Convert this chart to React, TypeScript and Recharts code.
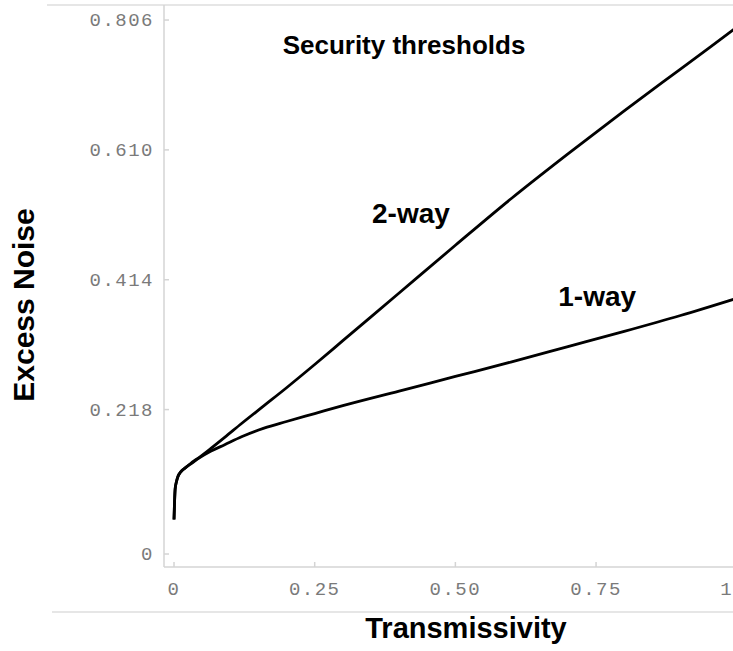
import React from "react";
import { LineChart, Line, XAxis, YAxis, ReferenceDot, Label } from "recharts";

const ETA = [0, 0.001, 0.002, 0.004, 0.007, 0.012, 0.02, 0.03, 0.045, 0.065, 0.09, 0.12, 0.16, 0.2, 0.25, 0.3, 0.4, 0.5, 0.6, 0.7, 0.8, 0.9, 1.0];
const TWO_WAY = [0.052, 0.08, 0.098, 0.108, 0.117, 0.124, 0.13, 0.137, 0.146, 0.159, 0.176, 0.197, 0.224, 0.251, 0.286, 0.322, 0.394, 0.466, 0.537, 0.604, 0.669, 0.732, 0.795];
const ONE_WAY = [0.052, 0.08, 0.098, 0.108, 0.117, 0.124, 0.13, 0.136, 0.145, 0.155, 0.165, 0.177, 0.19, 0.2, 0.212, 0.224, 0.246, 0.268, 0.29, 0.313, 0.336, 0.36, 0.386];

const X_TICKS = [0, 0.25, 0.5, 0.75, 1];
const X_TICK_LABELS = ["0", "0.25", "0.50", "0.75", "1"];
const Y_TICKS = [0, 0.218, 0.414, 0.61, 0.806];
const Y_TICK_LABELS = ["0", "0.218", "0.414", "0.610", "0.806"];

const TITLE = "Security thresholds";
const LABEL_TWO = "2-way";
const LABEL_ONE = "1-way";
const X_TITLE = "Transmissivity";
const Y_TITLE = "Excess Noise";

const data = ETA.map((e, i) => ({ eta: e, twoWay: TWO_WAY[i], oneWay: ONE_WAY[i] }));

const MONO = "'Liberation Mono', 'DejaVu Sans Mono', monospace";
const SANS = "'Liberation Sans', Arial, sans-serif";
const TICK_COLOR = "#7a7a7a";
const AXIS_COLOR = "#d4d4d4";

const YTick = (props: any) => {
  const { x, y, payload } = props;
  const idx = Y_TICKS.indexOf(payload.value);
  return (
    <g>
      <line x1={x + 10} x2={x + 15} y1={y} y2={y} stroke={AXIS_COLOR} strokeWidth={1.5} />
      <text x={x} y={y} dy={6} textAnchor="end" fill={TICK_COLOR} fontFamily={MONO} fontSize={19} letterSpacing={1.5}>
        {idx >= 0 ? Y_TICK_LABELS[idx] : String(payload.value)}
      </text>
    </g>
  );
};

const XTick = (props: any) => {
  const { x, y, payload } = props;
  const idx = X_TICKS.indexOf(payload.value);
  const shift = payload.value === 1 ? -10 : 0;
  return (
    <g>
      <line x1={x} x2={x} y1={y - 5} y2={y} stroke={AXIS_COLOR} strokeWidth={1.5} />
      <text x={x + shift} y={y + 28} textAnchor="middle" fill={TICK_COLOR} fontFamily={MONO} fontSize={19} letterSpacing={1.5}>
        {idx >= 0 ? X_TICK_LABELS[idx] : String(payload.value)}
      </text>
    </g>
  );
};

const TopTick = (props: any) => {
  const { x, y } = props;
  return <line x1={x} x2={x} y1={y} y2={y + 5} stroke={AXIS_COLOR} strokeWidth={1.5} />;
};

export default function App() {
  return (
    <div style={{ position: "relative", width: 733, height: 651, overflow: "hidden", background: "#fff" }}>
      <style>{`body{margin:0;overflow:hidden;background:#fff}`}</style>
      <div style={{ position: "absolute", left: 47, top: 4, width: 686, height: 2, background: "#e6e6e6" }} />
      <div style={{ position: "absolute", left: 52, top: 611, width: 681, height: 2, background: "#e6e6e6" }} />
      <div style={{ position: "absolute", left: 0, top: 0 }}>
        <LineChart width={750} height={651} data={data} margin={{ top: 5, right: 2, left: 0, bottom: 0 }}>
          <XAxis
            dataKey="eta"
            type="number"
            domain={[-0.0178, 1.02]}
            allowDataOverflow
            ticks={X_TICKS}
            interval={0}
            height={84}
            tickSize={0}
            tickMargin={0}
            tick={<XTick />}
            axisLine={{ stroke: AXIS_COLOR, strokeWidth: 1.5 }}
            tickLine={false}
          >
            <Label
              content={(p: any) => {
                const vb = p.viewBox;
                return (
                  <text x={vb.x + vb.width / 2 + 10} y={vb.y + 71} textAnchor="middle" fontFamily={SANS} fontWeight="bold" fontSize={29} fill="#000">
                    {X_TITLE}
                  </text>
                );
              }}
            />
          </XAxis>
          <XAxis
            xAxisId="top"
            dataKey="eta"
            type="number"
            orientation="top"
            domain={[-0.0178, 1.02]}
            allowDataOverflow
            ticks={X_TICKS}
            interval={0}
            height={0}
            tickSize={0}
            tickMargin={0}
            tick={<TopTick />}
            axisLine={false}
            tickLine={false}
          />
          <YAxis
            type="number"
            domain={[-0.0196, 0.8287]}
            allowDataOverflow
            ticks={Y_TICKS}
            interval={0}
            width={164}
            tickSize={0}
            tickMargin={10}
            tick={<YTick />}
            axisLine={{ stroke: AXIS_COLOR, strokeWidth: 1.5 }}
            tickLine={false}
          >
            <Label
              content={() => {
                const cx = 34;
                const cy = 305;
                return (
                  <text x={cx} y={cy} transform={`rotate(-90 ${cx} ${cy})`} textAnchor="middle" fontFamily={SANS} fontWeight="bold" fontSize={30} fill="#000">
                    {Y_TITLE}
                  </text>
                );
              }}
            />
          </YAxis>
          <Line type="monotone" dataKey="twoWay" stroke="#000" strokeWidth={2.8} dot={false} isAnimationActive={false} />
          <Line type="monotone" dataKey="oneWay" stroke="#000" strokeWidth={2.8} dot={false} isAnimationActive={false} />
          <ReferenceDot x={0.4087} y={0.768} r={0} fill="none" stroke="none"
            label={{ value: TITLE, position: "center", fill: "#000", fontSize: 26, fontWeight: "bold", fontFamily: SANS }} />
          <ReferenceDot x={0.421} y={0.515} r={0} fill="none" stroke="none"
            label={{ value: LABEL_TWO, position: "center", fill: "#000", fontSize: 28, fontWeight: "bold", fontFamily: SANS }} />
          <ReferenceDot x={0.752} y={0.389} r={0} fill="none" stroke="none"
            label={{ value: LABEL_ONE, position: "center", fill: "#000", fontSize: 28, fontWeight: "bold", fontFamily: SANS }} />
        </LineChart>
      </div>
    </div>
  );
}
